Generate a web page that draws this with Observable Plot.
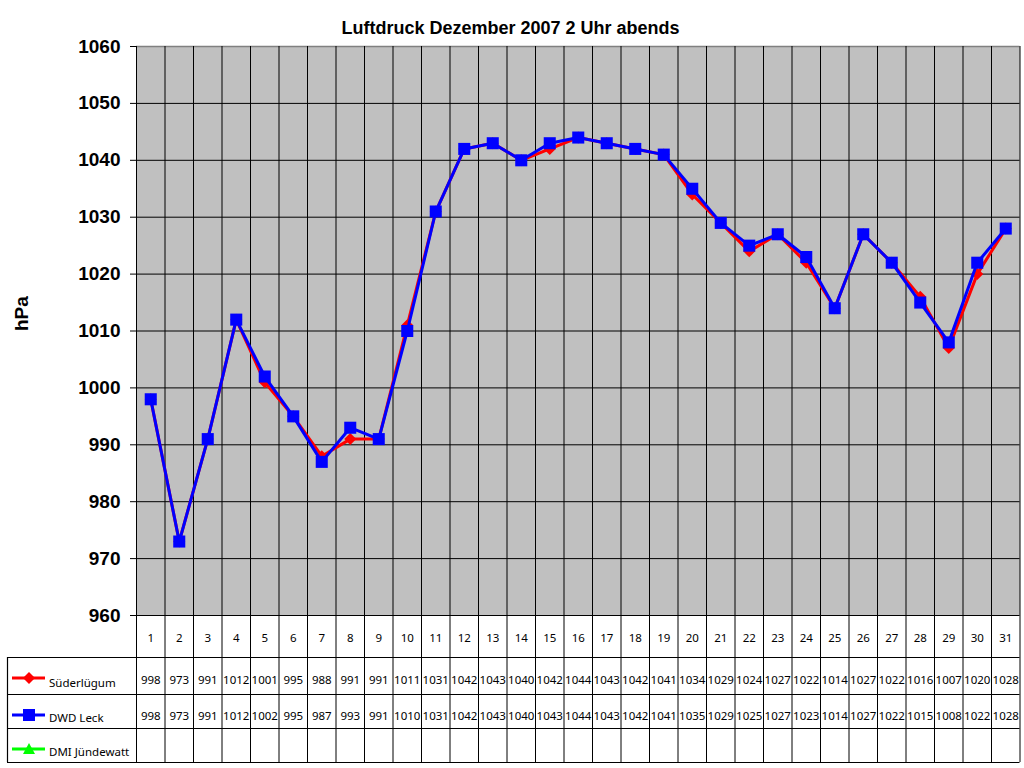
<!DOCTYPE html>
<html><head><meta charset="utf-8">
<script src="https://cdn.jsdelivr.net/npm/d3@7"></script>
<script src="https://cdn.jsdelivr.net/npm/@observablehq/plot@0.6"></script>
<style>
body{margin:0;background:#fff;}
#wrap{position:relative;width:1024px;height:768px;overflow:hidden;}
.leg{position:absolute;left:0;width:130px;height:30px;font:11.5px "Noto Sans",sans-serif;color:#000;}
.leg svg{position:absolute;left:0;top:0;}
.leg span{position:absolute;left:49px;}
</style></head><body><div id="wrap"></div>
<script>
// ---- data ----
const title = "Luftdruck Dezember 2007 2 Uhr abends";
const yLabel = "hPa";
const days = [1,2,3,4,5,6,7,8,9,10,11,12,13,14,15,16,17,18,19,20,21,22,23,24,25,26,27,28,29,30,31];
const yTicks = [960,970,980,990,1000,1010,1020,1030,1040,1050,1060];
const seriesNames = ["Süderlügum","DWD Leck","DMI Jündewatt"];
const seriesColors = ["#ff0000","#0000ff","#00ff00"];
const seriesSymbols = ["diamond2","square","triangle"];
const suederluegum = [998,973,991,1012,1001,995,988,991,991,1011,1031,1042,1043,1040,1042,1044,1043,1042,1041,1034,1029,1024,1027,1022,1014,1027,1022,1016,1007,1020,1028];
const dwdLeck = [998,973,991,1012,1002,995,987,993,991,1010,1031,1042,1043,1040,1043,1044,1043,1042,1041,1035,1029,1025,1027,1023,1014,1027,1022,1015,1008,1022,1028];
const dmiJuendewatt = []; // keine Werte

// ---- build ----
const seriesValues = [suederluegum, dwdLeck, dmiJuendewatt];
const rows = seriesValues.map((vals, s) => vals.map((v, i) => ({day: days[i], value: v, series: seriesNames[s]})));
const boundaries = [days[0] - 0.5, ...days.map(d => d + 0.5)];
const tableFont = "Noto Sans, sans-serif";
const axisFont = "Liberation Sans, Arial, sans-serif";

// table vertical offsets below the plot frame (layout)
const tableLineOffsets = [42, 79, 113, 147];
const valueRowOffsets = [68.5, 104, 139];

const marks = [
  Plot.frame({fill: "#c0c0c0"}),
  Plot.ruleY(yTicks.filter(t => t < 1060), {stroke: "#000", strokeWidth: 1}),
  Plot.ruleY([yTicks[yTicks.length - 1]], {stroke: "#808080", strokeWidth: 1.5}),
  Plot.ruleX(boundaries, {stroke: "#000", strokeWidth: 1, insetBottom: -147}),
  ...tableLineOffsets.map(o => Plot.ruleY([yTicks[0]], {dy: o, insetLeft: -129, stroke: "#000", strokeWidth: 1.2})),
  Plot.ruleX([boundaries[0]], {dx: -129, insetTop: 611, insetBottom: -147, stroke: "#000", strokeWidth: 1.2}),
  Plot.axisY(yTicks, {tickSize: 6, tickPadding: 10, tickFormat: d => String(d), fontSize: 19, fontWeight: "bold", fontFamily: axisFont, label: null, stroke: "#000"}),
  Plot.text([yLabel], {frameAnchor: "left", dx: -114.5, rotate: -90, fontSize: 19, fontWeight: "bold", fontFamily: axisFont, fill: "#000"}),
  Plot.text([title], {frameAnchor: "top", dx: 510 - 577.75, dy: -25, fontSize: 18, fontWeight: "bold", fontFamily: axisFont, fill: "#000"}),
  Plot.text(days, {x: d => d, frameAnchor: "bottom", dy: 26, fontSize: 11.5, fontFamily: tableFont, fill: "#000"}),
  ...rows.map((r, s) => Plot.text(r, {x: "day", text: d => String(d.value), frameAnchor: "bottom", dy: valueRowOffsets[s], fontSize: 11.5, fontFamily: tableFont, fill: "#000"})),
  Plot.lineY(rows[0], {x: "day", y: "value", stroke: seriesColors[0], strokeWidth: 3}),
  Plot.dot(rows[0], {x: "day", y: "value", symbol: seriesSymbols[0], r: 5.4, fill: seriesColors[0], stroke: "none"}),
  Plot.lineY(rows[1], {x: "day", y: "value", stroke: seriesColors[1], strokeWidth: 3}),
  Plot.dot(rows[1], {x: "day", y: "value", symbol: seriesSymbols[1], r: 6.8, fill: seriesColors[1], stroke: "none"})
];

const chart = Plot.plot({
  width: 1024,
  height: 768,
  marginTop: 46,
  marginBottom: 153,
  marginLeft: 136,
  marginRight: 4.5,
  x: {type: "linear", domain: [boundaries[0], boundaries[boundaries.length - 1]], axis: null},
  y: {domain: [yTicks[0], yTicks[yTicks.length - 1]], axis: null},
  style: {background: "#fff", color: "#000", fontFamily: axisFont},
  marks
});
const wrap = document.getElementById("wrap");
wrap.appendChild(chart);

// legend column of the data table
const legTops = [657, 694, 728];
const symPaths = {
  diamond2: "M29,-6 L35,0 L29,6 L23,0 Z",
  square: "M23,-6 H35 V6 H23 Z",
  triangle: "M29,-6 L35,5 L23,5 Z"
};
seriesNames.forEach((name, i) => {
  const div = document.createElement("div");
  div.className = "leg";
  div.style.top = legTops[i] + "px";
  div.innerHTML = `<svg width="60" height="36" viewBox="0 -21 60 36"><line x1="12" x2="45" y1="0" y2="0" stroke="${seriesColors[i]}" stroke-width="3"/><path d="${symPaths[seriesSymbols[i]]}" fill="${seriesColors[i]}"/></svg><span style="top:${i === 0 ? 18 : 16}px">${name}</span>`;
  wrap.appendChild(div);
});
</script></body></html>
